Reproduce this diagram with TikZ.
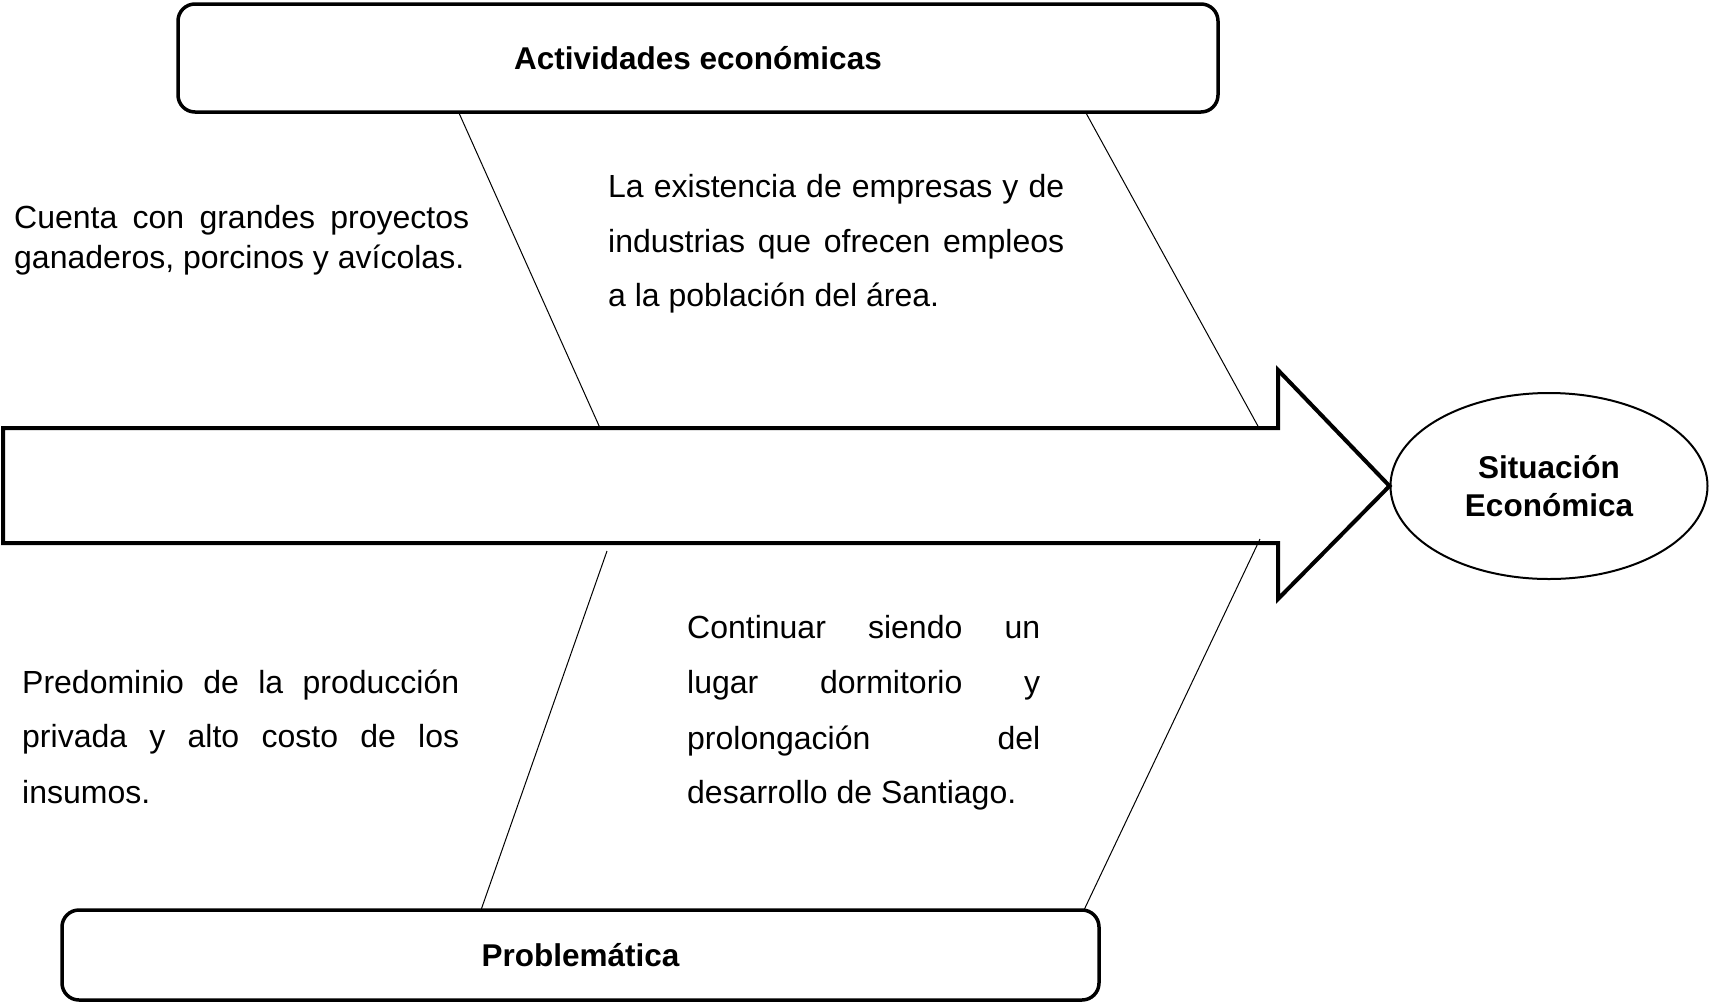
\documentclass[tikz,border=0pt]{standalone}
\usepackage{fontspec}
\setmainfont{Liberation Sans}
\usetikzlibrary{shapes.geometric}
\begin{document}
\begin{tikzpicture}[x=1pt,y=-1pt,
  titlebox/.style={draw, line width=3.5pt, rounded corners=17pt, inner sep=0pt,
    font=\fontsize{31.5}{38}\selectfont\bfseries, text height=22.5pt, text depth=0pt},
  thinline/.style={line width=1pt},
  bigarrow/.style={line width=4pt, miter limit=10},
  body/.style={font=\fontsize{32}{40}\selectfont, anchor=base west, inner sep=0pt}]
\useasboundingbox (0,0) rectangle (1709,1005);

\node[titlebox, minimum width=1040pt, minimum height=108pt] (act) at (698,58) {Actividades económicas};
\node[titlebox, minimum width=1037pt, minimum height=90pt] (prob) at (580.5,955) {Problemática};

\node[ellipse, draw, line width=2pt, minimum width=317pt, minimum height=186pt, inner sep=0pt,
  align=center, font=\fontsize{31.5}{38.7}\selectfont\bfseries] (sit) at (1549,486) {Situación\\Económica};

% big arrow
\coordinate (a1) at (3,428);
\coordinate (a2) at (1278,428);
\coordinate (a3) at (1278,370);
\coordinate (a5) at (1278,599);
\coordinate (a6) at (1278,543);
\coordinate (a7) at (3,543);
\draw[bigarrow] (a1) -- (a2) -- (a3) -- (sit.west) -- (a5) -- (a6) -- (a7) -- cycle;

% thin connectors
\coordinate (t1) at (459,113);
\coordinate (t1e) at (600,428);
\coordinate (t2) at (1086,113);
\coordinate (t2e) at (1259,428);
\coordinate (b1) at (607,551);
\coordinate (b1e) at (481,910);
\coordinate (b2) at (1260,539);
\coordinate (b2e) at (1084,910);
\draw[thinline] (t1) -- (t1e);
\draw[thinline] (t2) -- (t2e);
\draw[thinline] (b1) -- (b1e);
\draw[thinline] (b2) -- (b2e);

% texts
\node[body] (c1) at (14,228) {\makebox[455pt][s]{Cuenta con grandes proyectos}};
\node[body] (c2) at (14,268) {ganaderos, porcinos y avícolas.};

\node[body] (m1) at (608,197) {\makebox[456pt][s]{La existencia de empresas y de}};
\node[body] (m2) at (608,252) {\makebox[456pt][s]{industrias que ofrecen empleos}};
\node[body] (m3) at (608,306) {a la población del área.};

\node[body] (p1) at (22,693) {\makebox[437pt][s]{Predominio de la producción}};
\node[body] (p2) at (22,747) {\makebox[437pt][s]{privada y alto costo de los}};
\node[body] (p3) at (22,803) {insumos.};

\node[body] (q1) at (687,638) {\makebox[353pt][s]{Continuar siendo un}};
\node[body] (q2) at (687,693) {\makebox[353pt][s]{lugar dormitorio y}};
\node[body] (q3) at (687,749) {\makebox[353pt][s]{prolongación del}};
\node[body] (q4) at (687,803) {desarrollo de Santiago.};
\end{tikzpicture}
\end{document}
